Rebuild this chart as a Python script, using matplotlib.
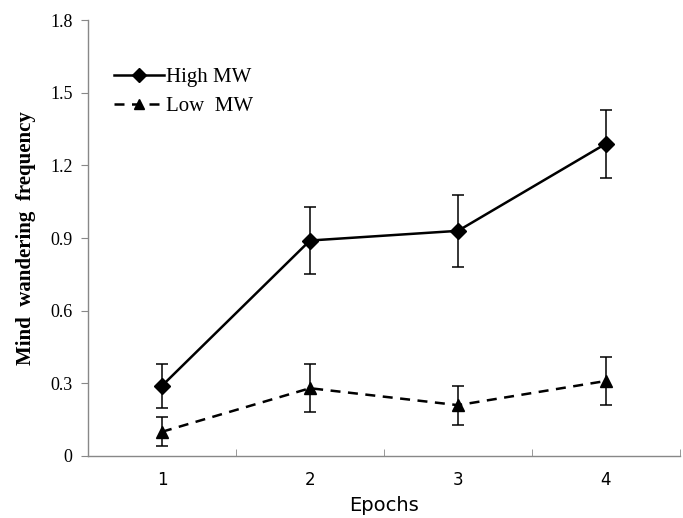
import matplotlib
matplotlib.use("Agg")
import matplotlib.pyplot as plt
from matplotlib.lines import Line2D
import numpy as np

epochs = [1, 2, 3, 4]
epoch_labels = ["1", "2", "3", "4"]
high_mw = [0.29, 0.89, 0.93, 1.29]
high_err = [0.09, 0.14, 0.15, 0.14]
low_mw = [0.10, 0.28, 0.21, 0.31]
low_err = [0.06, 0.10, 0.08, 0.10]
yticks = [0, 0.3, 0.6, 0.9, 1.2, 1.5, 1.8]
ytick_labels = ["0", "0.3", "0.6", "0.9", "1.2", "1.5", "1.8"]

fig = plt.figure(figsize=(6.83, 5.18), dpi=100)
ax = fig.add_axes([0.1288, 0.1197, 0.8668, 0.8413])

dash = (0, (4, 3))
ax.errorbar(epochs, high_mw, yerr=high_err, color="black", lw=1.8, marker="D",
            ms=8, capsize=4, elinewidth=1.1, capthick=1.1)
ax.errorbar(epochs, low_mw, yerr=low_err, color="black", lw=1.8, ls=dash,
            marker="^", ms=8, capsize=4, elinewidth=1.1, capthick=1.1)

ax.set_xlim(0.5, 4.5)
ax.set_ylim(0, 1.8)
ax.set_yticks(yticks)
ax.set_yticklabels(ytick_labels, fontfamily="Liberation Serif", fontsize=13)
ax.set_xticks(epochs)
ax.set_xticklabels(epoch_labels, fontfamily="DejaVu Sans", fontsize=12)
ax.tick_params(axis="x", length=0, pad=11)
ax.set_xticks([0.5, 1.5, 2.5, 3.5, 4.5], minor=True)
ax.tick_params(axis="x", which="minor", length=5, color="#888888", direction="in")
ax.tick_params(axis="y", length=5, color="#888888", direction="out", pad=6)

for s in ["top", "right"]:
    ax.spines[s].set_visible(False)
for s in ["left", "bottom"]:
    ax.spines[s].set_color("#888888")
    ax.spines[s].set_linewidth(1.0)

ax.set_xlabel("Epochs", fontfamily="DejaVu Sans", fontsize=14, labelpad=5)
ax.set_ylabel("Mind  wandering  frequency", fontfamily="Liberation Serif",
              fontweight="bold", fontsize=15, labelpad=10)

handles = [
    Line2D([], [], color="black", lw=1.8, marker="D", ms=7),
    Line2D([], [], color="black", lw=1.8, ls=dash, marker="^", ms=7),
]
ax.legend(handles, ["High MW", "Low  MW"], loc="upper left",
          bbox_to_anchor=(0.012, 0.935), frameon=False,
          prop={"family": "Liberation Serif", "size": 15},
          handlelength=2.4, handletextpad=0.1, labelspacing=0.45)

fig.savefig("out.png", dpi=100)
